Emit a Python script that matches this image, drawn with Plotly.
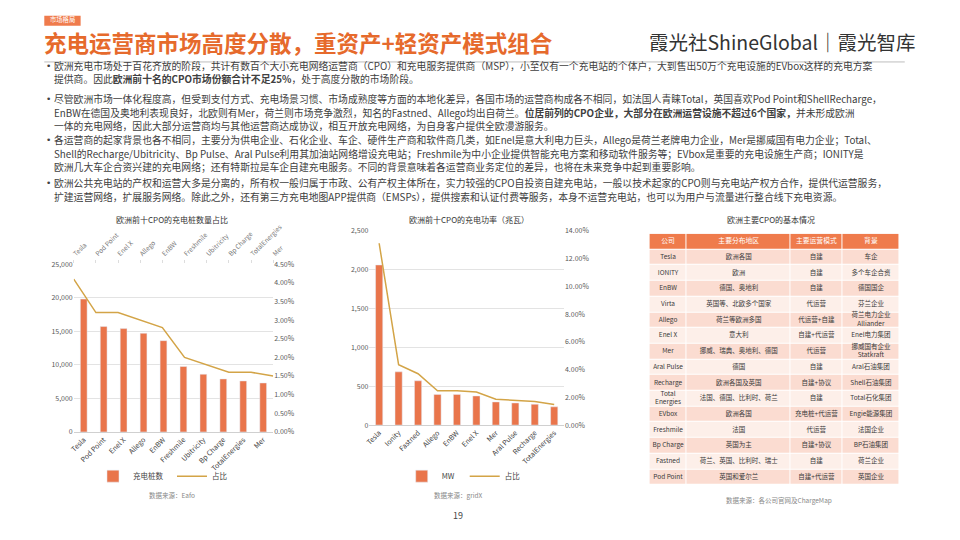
import plotly.graph_objects as go

# ---------------- data ----------------
cpo_count_names = ["Tesla", "Pod Point", "Enel X", "Allego", "EnBW", "Freshmile",
                   "Ubitricity", "Bp Charge", "TotalEnergies", "Mer"]
cpo_count_values = [19800, 15700, 15400, 14700, 13600, 9750, 8600, 7900, 7600, 7300]
cpo_count_share = [0.041, 0.032, 0.032, 0.030, 0.028, 0.020, 0.018, 0.016, 0.016, 0.015]

cpo_power_names = ["Tesla", "Ionity", "Fastned", "Allego", "EnBW", "Enel X", "Mer",
                   "Aral Pulse", "Recharge", "TotalEnergies"]
cpo_power_values = [2060, 685, 570, 395, 395, 375, 298, 285, 268, 235]
cpo_power_share = [0.131, 0.0435, 0.037, 0.0247, 0.0247, 0.0238, 0.0186, 0.0176, 0.017, 0.0148]

table_header = ["公司", "主要分布地区", "主要运营模式", "背景"]
table_company = ["Tesla", "IONITY", "EnBW", "Virta", "Allego", "Enel X", "Mer", "Aral Pulse",
                 "Recharge", "Total<br>Energies", "EVbox", "Freshmile", "Bp Charge", "Fastned", "Pod Point"]
table_region = ["欧洲各国", "欧洲", "德国、奥地利", "英国等、北欧多个国家", "荷兰等欧洲多国", "意大利",
                "挪威、瑞典、奥地利、德国", "德国", "欧洲各国及英国", "法国、德国、比利时、荷兰",
                "欧洲各国", "法国", "英国为主", "荷兰、英国、比利时、瑞士", "英国和爱尔兰"]
table_mode = ["自建", "自建", "自建", "代运营", "代运营+自建", "自建+代运营", "代运营", "自建",
              "自建+协议", "自建", "充电桩+代运营", "代运营", "自建+协议", "自建", "自建+代运营"]
table_background = ["车企", "多个车企合资", "德国国企", "芬兰企业", "荷兰电力企业<br>Alliander",
                    "Enel电力集团", "挪威国有企业<br>Statkraft", "Aral石油集团", "Shell石油集团",
                    "Total石化集团", "Engie能源集团", "法国企业", "BP石油集团", "荷兰企业", "英国企业"]
table_col_widths = [38, 106, 52, 59]

bullets = [
    ["欧洲充电市场处于百花齐放的阶段，共计有数百个大小充电网络运营商（CPO）和充电服务提供商（MSP），小至仅有一个充电站的个体户，大到售出50万个充电设施的EVbox这样的充电方案",
     "提供商。因此<b>欧洲前十名的CPO市场份额合计不足25%</b>，处于高度分散的市场阶段。"],
    ["尽管欧洲市场一体化程度高，但受到支付方式、充电场景习惯、市场成熟度等方面的本地化差异，各国市场的运营商构成各不相同，如法国人青睐Total，英国喜欢Pod Point和ShellRecharge，",
     "EnBW在德国及奥地利表现良好，北欧则有Mer，荷兰则市场竞争激烈，知名的Fastned、Allego均出自荷兰。<b>位居前列的CPO企业，大部分在欧洲运营设施不超过6个国家，</b>并未形成欧洲",
     "一体的充电网络，因此大部分运营商均与其他运营商达成协议，相互开放充电网络，为自身客户提供全欧漫游服务。"],
    ["各运营商的起家背景也各不相同，主要分为供电企业、石化企业、车企、硬件生产商和软件商几类，如Enel是意大利电力巨头，Allego是荷兰老牌电力企业，Mer是挪威国有电力企业；Total、",
     "Shell的Recharge/Ubitricity、Bp Pulse、Aral Pulse利用其加油站网络增设充电站；Freshmile为中小企业提供智能充电方案和移动软件服务等；EVbox是重要的充电设施生产商；IONITY是",
     "欧洲几大车企合资兴建的充电网络；还有特斯拉是车企自建充电服务。不同的背景意味着各运营商业务定位的差异，也将在未来竞争中起到重要影响。"],
    ["欧洲公共充电站的产权和运营大多是分离的，所有权一般归属于市政、公有产权主体所在，实力较强的CPO自投资自建充电站，一般以技术起家的CPO则与充电站产权方合作，提供代运营服务，",
     "扩建运营网络，扩展服务网络。除此之外，还有第三方充电地图APP提供商（EMSPs），提供搜索和认证付费等服务，本身不运营充电站，也可以为用户与流量进行整合线下充电资源。"],
]
bullet_first_line = [61, 95, 137, 180.5]

# ---------------- styles ----------------
W, H = 960, 540
FONT = "Noto Sans CJK SC, Noto Sans, sans-serif"
ORANGE = "#e9754b"
GOLD = "#d3a447"
GRID = "#e3e3e3"
TICK = "#595959"
LINE_STEP = 13.6

def px(x):
    return x / W

def py(y):
    return 1 - y / H

fig = go.Figure()

# left chart
fig.add_trace(go.Bar(x=cpo_count_names, y=cpo_count_values, name="充电桩数", marker_color=ORANGE,
                     width=0.34, xaxis="x", yaxis="y", legend="legend"))
fig.add_trace(go.Scatter(x=cpo_count_names, y=cpo_count_share, name="占比", mode="lines",
                         line=dict(color=GOLD, width=1.5), xaxis="x2", yaxis="y2", legend="legend"))
# right chart
fig.add_trace(go.Bar(x=cpo_power_names, y=cpo_power_values, name="MW", marker_color=ORANGE,
                     width=0.37, xaxis="x3", yaxis="y3", legend="legend2"))
fig.add_trace(go.Scatter(x=cpo_power_names, y=cpo_power_share, name="占比", mode="lines",
                         line=dict(color=GOLD, width=1.5), xaxis="x3", yaxis="y4", legend="legend2"))

# table drawn as a heatmap grid + text on its own axes
col_edges = [0]
for w in table_col_widths:
    col_edges.append(col_edges[-1] + w)
col_centers = [(col_edges[i] + col_edges[i + 1]) / 2 for i in range(len(table_col_widths))]
n_rows = len(table_company) + 1
z = [[2] * 4] + [[1 if i % 2 == 0 else 0] * 4 for i in range(len(table_company))]
fig.add_trace(go.Heatmap(
    x=col_edges, y=list(range(n_rows + 1)), z=z, zmin=0, zmax=2,
    colorscale=[[0, "#fdefe9"], [0.5, "#fbdcd1"], [1, "#ef7b4c"]],
    showscale=False, xgap=1, ygap=1, hoverinfo="skip", xaxis="x5", yaxis="y5"))
fig.add_trace(go.Scatter(
    x=col_centers, y=[0.5] * 4, text=table_header, mode="text",
    textfont=dict(size=6.8, color="white", family=FONT), hoverinfo="skip", showlegend=False,
    xaxis="x5", yaxis="y5"))
body_x, body_y, body_t = [], [], []
for r, row in enumerate(zip(table_company, table_region, table_mode, table_background)):
    for c, val in enumerate(row):
        body_x.append(col_centers[c])
        body_y.append(r + 1.5)
        body_t.append(val)
fig.add_trace(go.Scatter(
    x=body_x, y=body_y, text=body_t, mode="text",
    textfont=dict(size=6.5, color="#3a3a3a", family=FONT), hoverinfo="skip", showlegend=False,
    xaxis="x5", yaxis="y5"))

axis_font = dict(size=7, color=TICK, family=FONT)
leg_common = dict(orientation="h", xanchor="center", yanchor="middle", itemwidth=30,
                  font=dict(size=7.5, color="#444", family=FONT), bgcolor="rgba(0,0,0,0)")
fig.update_layout(
    width=W, height=H, margin=dict(l=0, r=0, t=0, b=0),
    paper_bgcolor="white", plot_bgcolor="white",
    font=dict(family=FONT),
    xaxis=dict(domain=[px(70), px(273)], anchor="y", tickangle=-45, tickfont=dict(size=7, color="#444", family=FONT),
               showline=True, linecolor="#d0d0d0", ticks="", showgrid=False),
    xaxis2=dict(overlaying="x", side="top", anchor="y", tickangle=-45,
                tickfont=dict(size=6.5, color="#777", family=FONT),
                showline=False, ticks="outside", ticklen=3, tickcolor="#dddddd", showgrid=False),
    yaxis=dict(domain=[py(434), py(263)], anchor="x", range=[0, 25000], dtick=5000, tickformat=",",
               tickfont=axis_font, gridcolor=GRID, zeroline=False, showline=False),
    yaxis2=dict(overlaying="y", side="right", anchor="x", range=[0, 0.045], dtick=0.005, tickformat=".2%",
                tickfont=axis_font, showgrid=False, zeroline=False, showline=False),
    xaxis3=dict(domain=[px(371), px(569)], anchor="y3", tickangle=-45, tickfont=dict(size=7, color="#444", family=FONT),
                showline=True, linecolor="#d0d0d0", ticks="", showgrid=False),
    yaxis3=dict(domain=[py(427), py(229)], anchor="x3", range=[0, 2500], dtick=500, tickformat=",",
                tickfont=axis_font, gridcolor=GRID, zeroline=False, showline=False),
    yaxis4=dict(overlaying="y3", side="right", anchor="x3", range=[0, 0.14], dtick=0.02, tickformat=".2%",
                tickfont=axis_font, showgrid=False, zeroline=False, showline=False),
    xaxis5=dict(domain=[px(656), px(911)], anchor="y5", range=[0, col_edges[-1]], visible=False, fixedrange=True),
    yaxis5=dict(domain=[py(488), py(232)], anchor="x5", range=[n_rows, 0], visible=False, fixedrange=True),
    legend=dict(x=px(170), y=py(479), entrywidth=34, **leg_common),
    legend2=dict(x=px(468), y=py(479), entrywidth=18, **leg_common),
    showlegend=True,
)

shapes = [
    dict(type="rect", xref="paper", yref="paper", x0=px(40), x1=px(77), y0=py(20), y1=py(10),
         fillcolor="#ef7b4c", line=dict(width=0)),
    dict(type="line", xref="paper", yref="paper", x0=px(40), x1=px(916), y0=py(57), y1=py(57),
         line=dict(color="#bdbdbd", width=1)),
]
fig.update_layout(shapes=shapes)

ann = []
def text(x, y, s, size, color="#404040", xanchor="center", yanchor="middle", align="center", family=FONT):
    ann.append(dict(xref="paper", yref="paper", x=px(x), y=py(y), text=s, showarrow=False,
                    xanchor=xanchor, yanchor=yanchor, align=align,
                    font=dict(size=size, color=color, family=family)))

text(58.5, 14, "市场格局", 6.3, "white")
text(38, 37, "<b>充电运营商市场高度分散，重资产+轻资产模式组合</b>", 22.5, "#e66a2c", xanchor="left")
text(929, 36, "霞光社ShineGlobal｜霞光智库", 19.5, "#333333", xanchor="right")

for first, lines in zip(bullet_first_line, bullets):
    text(40, first, "•", 9, "#404040", xanchor="left", family="DejaVu Sans")
    for k, line in enumerate(lines):
        text(48, first + k * LINE_STEP, line, 9.8, "#404040", xanchor="left", align="left")

text(170, 218, "欧洲前十CPO的充电桩数量占比", 8, "#333333")
text(472, 218, "欧洲前十CPO的充电功率（兆瓦）", 8, "#333333")
text(780, 218, "欧洲主要CPO的基本情况", 8, "#333333")
text(170, 498, "数据来源：Eafo", 6.5, "#888888")
text(462, 498, "数据来源：gridX", 6.5, "#888888")
text(732, 503, "数据来源：各公司官网及ChargeMap", 6.5, "#888888", xanchor="left")
text(461, 519, "19", 9, "#444444")
fig.update_layout(annotations=ann)

fig.write_html("out.html", config={"displayModeBar": False},
               post_script="document.body.style.margin='0';document.body.style.overflow='hidden';")
